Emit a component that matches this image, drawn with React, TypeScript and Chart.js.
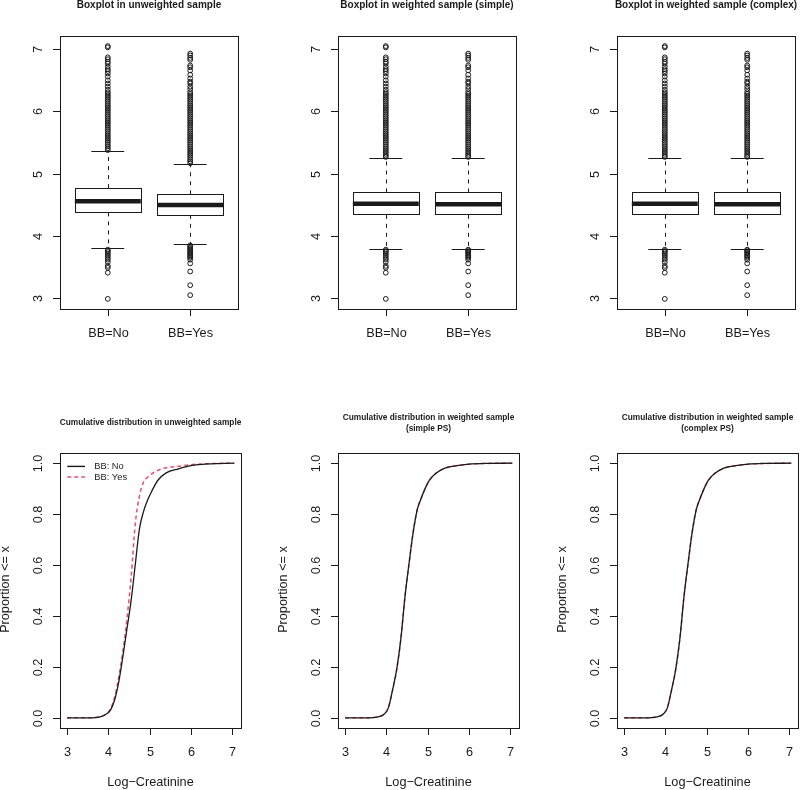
import React, { useEffect, useRef } from "react";
import { Chart, registerables } from "chart.js";
Chart.register(...registerables);

// ---------------- data ----------------
const groupLabels = ["BB=No", "BB=Yes"];
const groupPositions = [1, 2];
const boxTitles = [
  "Boxplot in unweighted sample",
  "Boxplot in weighted sample (simple)",
  "Boxplot in weighted sample (complex)",
];
const cdfTitles = [
  ["Cumulative distribution in unweighted sample"],
  ["Cumulative distribution in weighted sample", "(simple PS)"],
  ["Cumulative distribution in weighted sample", "(complex PS)"],
];
const boxYTicks = [3, 4, 5, 6, 7];
const boxYTickLabels = ["3", "4", "5", "6", "7"];
const cdfXTicks = [3, 4, 5, 6, 7];
const cdfXTickLabels = ["3", "4", "5", "6", "7"];
const cdfYTicks = [0, 0.2, 0.4, 0.6, 0.8, 1.0];
const cdfYTickLabels = ["0.0", "0.2", "0.4", "0.6", "0.8", "1.0"];
const legendLabels = ["BB: No", "BB: Yes"];
const xAxisTitle = "Log\u2212Creatinine";
const yAxisTitle = "Proportion <= x";

// [lower whisker, Q1, median, Q3, upper whisker]
const unwNoStats = [3.8, 4.38, 4.56, 4.77, 5.37];
const unwYesStats = [3.87, 4.34, 4.5, 4.67, 5.15];
const wNoStats = [3.79, 4.34, 4.52, 4.7, 5.26];
const wYesStats = [3.79, 4.34, 4.51, 4.7, 5.26];

// outliers
const unwNoHigh = [7.05, 7.03, 6.87, 6.84, 6.8, 6.77, 6.72, 6.68, 6.65, 6.61, 6.56, 6.5, 6.45, 6.4, 6.35, 6.31, 6.28, 6.25, 6.22, 6.19, 6.16, 6.13, 6.1, 6.07, 6.04, 6.01, 5.98, 5.95, 5.92, 5.89, 5.86, 5.83, 5.8, 5.77, 5.74, 5.71, 5.68, 5.65, 5.62, 5.59, 5.56, 5.53, 5.5, 5.47, 5.44, 5.41, 5.38];
const unwNoLow = [3.78, 3.76, 3.74, 3.71, 3.68, 3.65, 3.62, 3.58, 3.52, 3.49, 3.41, 2.99];
const unwYesHigh = [6.93, 6.9, 6.86, 6.83, 6.74, 6.71, 6.66, 6.59, 6.53, 6.48, 6.45, 6.4, 6.36, 6.31, 6.28, 6.25, 6.22, 6.19, 6.16, 6.13, 6.1, 6.07, 6.04, 6.01, 5.98, 5.95, 5.92, 5.89, 5.86, 5.83, 5.8, 5.77, 5.74, 5.71, 5.68, 5.65, 5.62, 5.59, 5.56, 5.53, 5.5, 5.47, 5.44, 5.41, 5.38, 5.35, 5.32, 5.29, 5.26, 5.23, 5.2, 5.17];
const unwYesLow = [3.85, 3.83, 3.81, 3.79, 3.77, 3.75, 3.73, 3.71, 3.69, 3.67, 3.65, 3.62, 3.56, 3.43, 3.21, 3.05];
const wNoHigh = [7.05, 7.03, 6.87, 6.84, 6.8, 6.77, 6.72, 6.68, 6.65, 6.61, 6.56, 6.5, 6.45, 6.4, 6.35, 6.31, 6.28, 6.25, 6.22, 6.19, 6.16, 6.13, 6.1, 6.07, 6.04, 6.01, 5.98, 5.95, 5.92, 5.89, 5.86, 5.83, 5.8, 5.77, 5.74, 5.71, 5.68, 5.65, 5.62, 5.59, 5.56, 5.53, 5.5, 5.47, 5.44, 5.41, 5.38, 5.35, 5.32, 5.29, 5.27];
const wNoLow = [3.78, 3.76, 3.74, 3.71, 3.68, 3.65, 3.62, 3.58, 3.52, 3.49, 3.41, 2.99];
const wYesHigh = [6.93, 6.9, 6.86, 6.83, 6.74, 6.71, 6.66, 6.59, 6.53, 6.48, 6.45, 6.4, 6.36, 6.31, 6.28, 6.25, 6.22, 6.19, 6.16, 6.13, 6.1, 6.07, 6.04, 6.01, 5.98, 5.95, 5.92, 5.89, 5.86, 5.83, 5.8, 5.77, 5.74, 5.71, 5.68, 5.65, 5.62, 5.59, 5.56, 5.53, 5.5, 5.47, 5.44, 5.41, 5.38, 5.35, 5.32, 5.29, 5.27];
const wYesLow = [3.78, 3.77, 3.75, 3.73, 3.71, 3.69, 3.67, 3.65, 3.62, 3.56, 3.43, 3.21, 3.05];

// cumulative distributions
const cdfGrid = [3.0, 3.5, 3.8, 3.95, 4.05, 4.15, 4.25, 4.35, 4.45, 4.55, 4.65, 4.75, 4.85, 4.95, 5.05, 5.2, 5.4, 5.7, 6.0, 6.4, 7.05];
const unwNoCdf = [0, 0, 0.004, 0.015, 0.03, 0.07, 0.14, 0.24, 0.35, 0.46, 0.6, 0.74, 0.81, 0.855, 0.89, 0.933, 0.962, 0.978, 0.99, 0.997, 1.0];
const unwYesCdf = [0, 0, 0.004, 0.016, 0.034, 0.08, 0.16, 0.26, 0.39, 0.55, 0.76, 0.87, 0.925, 0.945, 0.958, 0.972, 0.982, 0.988, 0.994, 0.998, 1.0];
const wNoCdf = [0, 0, 0.004, 0.015, 0.04, 0.11, 0.19, 0.31, 0.475, 0.608, 0.73, 0.819, 0.865, 0.905, 0.935, 0.96, 0.98, 0.99, 0.996, 0.999, 1.0];
const wYesCdf = [0, 0, 0.004, 0.015, 0.041, 0.11, 0.19, 0.31, 0.476, 0.607, 0.73, 0.82, 0.866, 0.905, 0.934, 0.96, 0.979, 0.99, 0.996, 0.999, 1.0];

// ---------------- style / layout ----------------
const FONT = '"Liberation Sans", Arial, Helvetica, sans-serif';
const INK = "#1a1a1a";
const RED = "#DF536B";
const CANVAS_W = 243;
const CANVAS_H = 395;
const PLOT_LEFTS = [60, 338, 617];
const ROW_TOPS = [0, 395];
const BOX_PAD = { left: 60, right: 2, top: 36, bottom: 86 };
const CDF_PAD = { left: 60, right: 2, top: 58, bottom: 62 };

type Decor = {
  title: string[];
  titleSize: number;
  titleY: number[];
  xTicks: number[];
  xTickLabels: string[];
  yTicks: number[];
  yTickLabels: string[];
  xTitle?: string;
  yTitle?: string;
  legend?: boolean;
  boxes?: { stats: number[][]; positions: number[] };
};

function makeDecor(d: Decor) {
  return {
    id: "rDecor",
    afterDatasetsDraw(chart: any) {
      const { ctx, chartArea: a, scales } = chart;
      const xs = scales.x;
      const ys = scales.y;
      ctx.save();
      ctx.strokeStyle = INK;
      ctx.fillStyle = INK;
      ctx.lineWidth = 1;

      // boxes
      if (d.boxes) {
        d.boxes.stats.forEach((s, gi) => {
          const g = d.boxes!.positions[gi];
          const xl = xs.getPixelForValue(g - 0.4);
          const xr = xs.getPixelForValue(g + 0.4);
          const xc = Math.round(xs.getPixelForValue(g)) + 0.5;
          const sl = xs.getPixelForValue(g - 0.2);
          const sr = xs.getPixelForValue(g + 0.2);
          const [lo, q1, med, q3, hi] = s.map((v) => ys.getPixelForValue(v));
          ctx.lineWidth = 1;
          ctx.setLineDash([4, 5]);
          ctx.beginPath();
          ctx.moveTo(xc, q3);
          ctx.lineTo(xc, hi);
          ctx.moveTo(xc, q1);
          ctx.lineTo(xc, lo);
          ctx.stroke();
          ctx.setLineDash([]);
          ctx.beginPath();
          ctx.moveTo(sl, Math.round(hi) + 0.5);
          ctx.lineTo(sr, Math.round(hi) + 0.5);
          ctx.moveTo(sl, Math.round(lo) + 0.5);
          ctx.lineTo(sr, Math.round(lo) + 0.5);
          ctx.stroke();
          ctx.fillStyle = "#ffffff";
          ctx.fillRect(xl, q3, xr - xl, q1 - q3);
          ctx.strokeRect(Math.round(xl) + 0.5, Math.round(q3) + 0.5, Math.round(xr - xl), Math.round(q1 - q3));
          ctx.lineWidth = 4.5;
          ctx.beginPath();
          ctx.moveTo(xl, med);
          ctx.lineTo(xr, med);
          ctx.stroke();
          ctx.fillStyle = INK;
        });
      }

      // frame
      ctx.lineWidth = 1;
      ctx.setLineDash([]);
      ctx.strokeRect(Math.round(a.left) + 0.5, Math.round(a.top) + 0.5, Math.round(a.right - a.left), Math.round(a.bottom - a.top));

      // axes
      ctx.font = `12.7px ${FONT}`;
      ctx.textAlign = "center";
      ctx.textBaseline = "middle";
      d.xTicks.forEach((v, i) => {
        const px = Math.round(xs.getPixelForValue(v)) + 0.5;
        ctx.beginPath();
        ctx.moveTo(px, a.bottom);
        ctx.lineTo(px, a.bottom + 7);
        ctx.stroke();
        ctx.fillText(d.xTickLabels[i], px, a.bottom + 24);
      });
      d.yTicks.forEach((v, i) => {
        const py = Math.round(ys.getPixelForValue(v)) + 0.5;
        ctx.beginPath();
        ctx.moveTo(a.left - 7, py);
        ctx.lineTo(a.left, py);
        ctx.stroke();
        ctx.save();
        ctx.translate(a.left - 22, py);
        ctx.rotate(-Math.PI / 2);
        ctx.fillText(d.yTickLabels[i], 0, 0);
        ctx.restore();
      });
      if (d.xTitle) {
        ctx.fillText(d.xTitle, (a.left + a.right) / 2, a.bottom + 54);
      }
      if (d.yTitle) {
        ctx.save();
        ctx.translate(a.left - 55, (a.top + a.bottom) / 2 - 1);
        ctx.rotate(-Math.PI / 2);
        ctx.fillText(d.yTitle, 0, 0);
        ctx.restore();
      }

      // title
      ctx.font = `bold ${d.titleSize}px ${FONT}`;
      d.title.forEach((t, i) => {
        ctx.fillText(t, (a.left + a.right) / 2, d.titleY[i]);
      });

      // legend
      if (d.legend) {
        ctx.font = `9.3px ${FONT}`;
        ctx.textAlign = "left";
        const rows = [a.top + 13.4, a.top + 24];
        const colors = [INK, RED];
        const dashes = [[], [4, 3]];
        rows.forEach((ry, i) => {
          ctx.strokeStyle = colors[i];
          ctx.lineWidth = 1.4;
          ctx.setLineDash(dashes[i]);
          ctx.beginPath();
          ctx.moveTo(a.left + 7.3, ry);
          ctx.lineTo(a.left + 25, ry);
          ctx.stroke();
          ctx.setLineDash([]);
          ctx.fillStyle = INK;
          ctx.fillText(legendLabels[i], a.left + 34.3, ry);
        });
      }
      ctx.restore();
    },
  };
}

function outlierData(pos: number, values: number[]) {
  return values.map((v) => ({ x: pos, y: v }));
}

function boxConfig(idx: number, stats: number[][], highs: number[][], lows: number[][]) {
  return {
    type: "scatter",
    data: {
      datasets: groupPositions.map((p, gi) => ({
        label: groupLabels[gi],
        data: outlierData(p, highs[gi].concat(lows[gi])),
        pointRadius: 2.4,
        pointBorderWidth: 1,
        pointBorderColor: INK,
        pointBackgroundColor: "rgba(0,0,0,0)",
        showLine: false,
      })),
    },
    options: {
      responsive: false,
      animation: false,
      events: [],
      layout: { padding: BOX_PAD },
      plugins: { legend: { display: false }, tooltip: { enabled: false }, title: { display: false } },
      scales: {
        x: { type: "linear", min: 0.42, max: 2.58, display: false },
        y: { type: "linear", min: 2.8276, max: 7.2124, display: false },
      },
    },
    plugins: [
      makeDecor({
        title: [boxTitles[idx]],
        titleSize: 10,
        titleY: [5],
        xTicks: groupPositions,
        xTickLabels: groupLabels,
        yTicks: boxYTicks,
        yTickLabels: boxYTickLabels,
        boxes: { stats, positions: groupPositions },
      }),
    ],
  };
}

function cdfConfig(idx: number, noCdf: number[], yesCdf: number[]) {
  const titleY = cdfTitles[idx].length === 1 ? [27.7] : [22.3, 33.3];
  return {
    type: "line",
    data: {
      datasets: [
        {
          label: legendLabels[0],
          data: cdfGrid.map((x, i) => ({ x, y: noCdf[i] })),
          borderColor: INK,
          borderWidth: 1.3,
          pointRadius: 0,
          cubicInterpolationMode: "monotone",
          fill: false,
        },
        {
          label: legendLabels[1],
          data: cdfGrid.map((x, i) => ({ x, y: yesCdf[i] })),
          borderColor: RED,
          borderWidth: 1.5,
          borderDash: [4, 3],
          pointRadius: 0,
          cubicInterpolationMode: "monotone",
          fill: false,
        },
      ],
    },
    options: {
      responsive: false,
      animation: false,
      events: [],
      layout: { padding: CDF_PAD },
      plugins: { legend: { display: false }, tooltip: { enabled: false }, title: { display: false } },
      scales: {
        x: { type: "linear", min: 2.8276, max: 7.2124, display: false },
        y: { type: "linear", min: -0.04, max: 1.04, display: false },
      },
    },
    plugins: [
      makeDecor({
        title: cdfTitles[idx],
        titleSize: 8.3,
        titleY,
        xTicks: cdfXTicks,
        xTickLabels: cdfXTickLabels,
        yTicks: cdfYTicks,
        yTickLabels: cdfYTickLabels,
        xTitle: xAxisTitle,
        yTitle: yAxisTitle,
        legend: idx === 0,
      }),
    ],
  };
}

function Panel({ left, top, build }: { left: number; top: number; build: () => any }) {
  const ref = useRef<HTMLCanvasElement>(null);
  useEffect(() => {
    const chart = new Chart(ref.current as HTMLCanvasElement, build());
    return () => chart.destroy();
  }, []);
  return (
    <canvas
      ref={ref}
      width={CANVAS_W}
      height={CANVAS_H}
      style={{ position: "absolute", left, top, width: CANVAS_W, height: CANVAS_H }}
    />
  );
}

export default function App() {
  const boxBuilders = [
    () => boxConfig(0, [unwNoStats, unwYesStats], [unwNoHigh, unwYesHigh], [unwNoLow, unwYesLow]),
    () => boxConfig(1, [wNoStats, wYesStats], [wNoHigh, wYesHigh], [wNoLow, wYesLow]),
    () => boxConfig(2, [wNoStats, wYesStats], [wNoHigh, wYesHigh], [wNoLow, wYesLow]),
  ];
  const cdfBuilders = [
    () => cdfConfig(0, unwNoCdf, unwYesCdf),
    () => cdfConfig(1, wNoCdf, wYesCdf),
    () => cdfConfig(2, wNoCdf, wYesCdf),
  ];
  return (
    <div style={{ position: "absolute", left: 0, top: 0, width: 800, height: 790, background: "#fff", overflow: "hidden" }}>
      {boxBuilders.map((b, i) => (
        <Panel key={"b" + i} left={PLOT_LEFTS[i] - 60} top={ROW_TOPS[0]} build={b} />
      ))}
      {cdfBuilders.map((b, i) => (
        <Panel key={"c" + i} left={PLOT_LEFTS[i] - 60} top={ROW_TOPS[1]} build={b} />
      ))}
    </div>
  );
}
